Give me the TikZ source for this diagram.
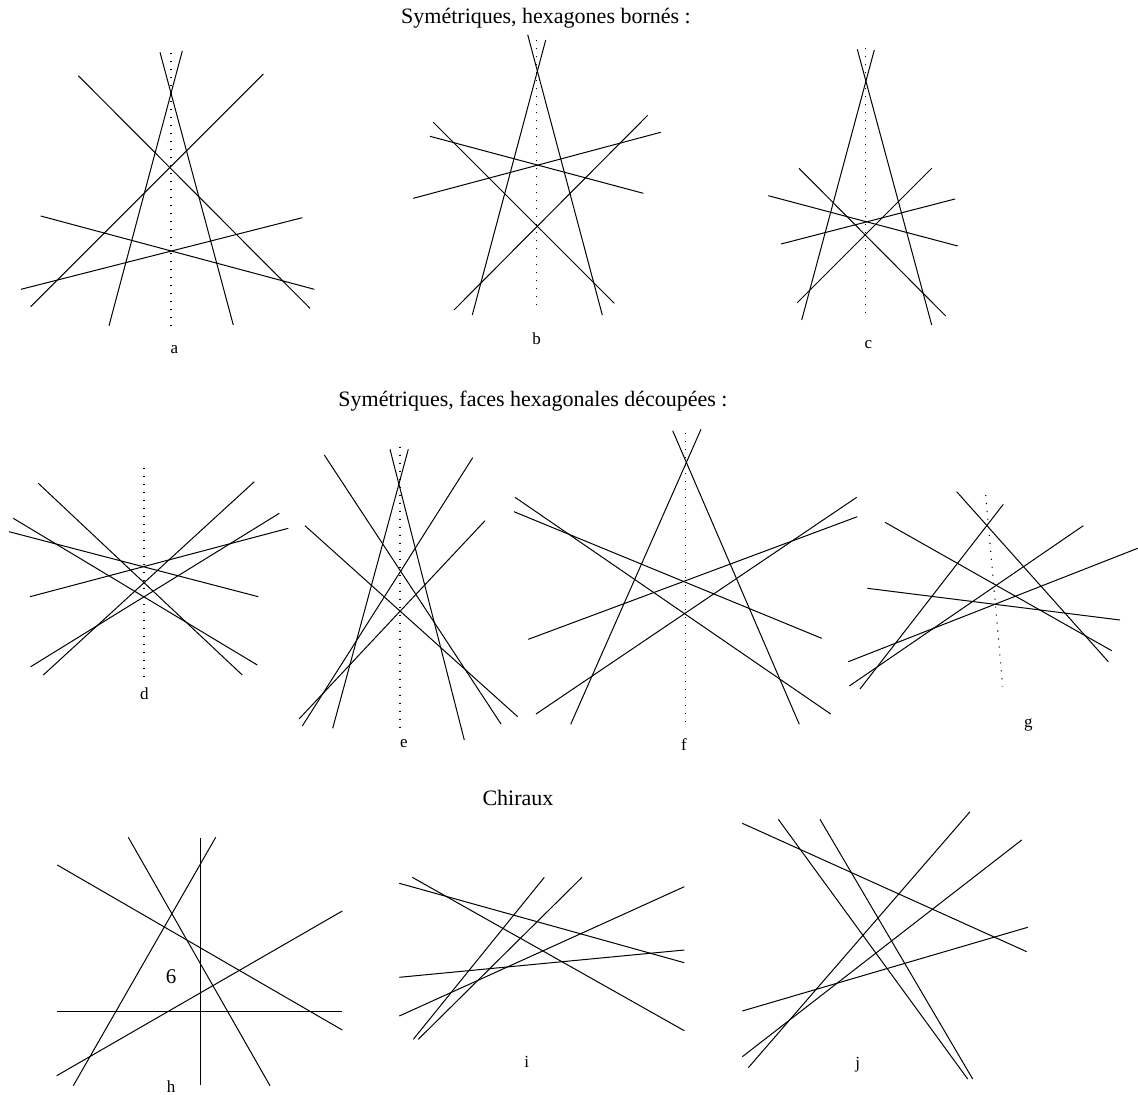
\documentclass[tikz,border=0pt]{standalone}
\usepackage{fontspec}
\setmainfont{Liberation Serif}
\begin{document}
\begin{tikzpicture}[x=1pt,y=-1pt,
  ln/.style={line width=1pt},
  ax/.style={line width=1.1pt, dash pattern=on 1.1pt off 6.9pt},
  ttl/.style={anchor=base, inner sep=0pt, font=\fontsize{22}{26}\selectfont},
  lbl/.style={inner sep=0pt, font=\fontsize{17}{20}\selectfont}]
\useasboundingbox (0,0) rectangle (1138,1095);
% titles
\node[ttl] (t1) at (546,23.3) {Symétriques, hexagones bornés :};
\node[ttl] (t2) at (533,406.7) {Symétriques, faces hexagonales découpées :};
\node[ttl] (t3) at (518,805) {Chiraux};
% ---------- a
\draw[ax] (171,53.3) -- (171,330);
\draw[ln] (160,52.3) -- (233.3,325);
\draw[ln] (182.3,51) -- (109,325.7);
\draw[ln] (78.3,75.7) -- (310,308.3);
\draw[ln] (263.3,74) -- (30.7,306.7);
\draw[ln] (40.7,216) -- (314.3,289.3);
\draw[ln] (302.3,217.7) -- (21,289.3);
\node[lbl] (la) at (174.3,350) {a};
% ---------- b
\draw[ax] (536.7,40) -- (536.7,310);
\draw[ln] (527.7,34.7) -- (602.3,315);
\draw[ln] (545.7,40) -- (472.3,315);
\draw[ln] (433.3,122.3) -- (614.3,303.3);
\draw[ln] (647.7,115.3) -- (454,310);
\draw[ln] (430,136.3) -- (643.3,193.3);
\draw[ln] (660.7,132.3) -- (413.3,198.3);
\node[lbl] (lb) at (536.7,338.3) {b};
% ---------- c
\draw[ax] (865.7,48.3) -- (865.7,320);
\draw[ln] (857.3,49.3) -- (931.7,325);
\draw[ln] (874.3,50) -- (801.7,320);
\draw[ln] (799,168.3) -- (945.7,316);
\draw[ln] (931.7,168.3) -- (797.3,302.7);
\draw[ln] (768.3,195.7) -- (957.7,246);
\draw[ln] (955,199) -- (781,244);
\node[lbl] (lc) at (868.3,345) {c};
% ---------- d
\draw[ax] (144,468.3) -- (144,683.3);
\draw[ln] (38.3,483.3) -- (242.3,675);
\draw[ln] (254.3,481.7) -- (43.3,675);
\draw[ln] (13.3,518.3) -- (257.3,665);
\draw[ln] (279.3,513.3) -- (30.7,666.7);
\draw[ln] (9,531.7) -- (258.3,596.7);
\draw[ln] (288.3,528.3) -- (30,596.7);
\node[lbl] (ld) at (144.3,693.3) {d};
% ---------- e
\draw[ax] (400,446.7) -- (400,730);
\draw[ln] (390,449.3) -- (464.3,740);
\draw[ln] (408.3,449.3) -- (332.7,728.3);
\draw[ln] (324.3,455) -- (501,724);
\draw[ln] (472.7,457.7) -- (302.3,726);
\draw[ln] (305,525.7) -- (517.7,716.7);
\draw[ln] (485,520.7) -- (299,719);
\node[lbl] (le) at (404,743.3) {e};
% ---------- f
\draw[ax] (685.3,433.3) -- (685.3,725);
\draw[ln] (672.7,430.7) -- (799.3,724.3);
\draw[ln] (701,429.3) -- (570.7,724.3);
\draw[ln] (515,497.3) -- (830.7,714);
\draw[ln] (856.7,497.3) -- (536,714);
\draw[ln] (514,511.7) -- (821.7,638.3);
\draw[ln] (857.3,516.7) -- (528.3,639.3);
\node[lbl] (lf) at (684,745) {f};
% ---------- g
\draw[ax] (985.7,495) -- (1002.7,686.7);
\draw[ln] (956.7,491.7) -- (1108.3,661.7);
\draw[ln] (1003.3,504.3) -- (860,689);
\draw[ln] (885,522.3) -- (1111.7,650.7);
\draw[ln] (1083.3,525.7) -- (849.3,686);
\draw[ln] (1137.7,548.3) -- (848.3,661.7);
\draw[ln] (867.3,588.3) -- (1120,620);
\node[lbl] (lg) at (1028.3,725) {g};
% ---------- h
\draw[ln] (200,838.3) -- (200,1085);
\draw[ln] (56.7,1011) -- (342.3,1011);
\draw[ln] (128.3,837.3) -- (270,1085.7);
\draw[ln] (215.7,837.3) -- (73.3,1085.7);
\draw[ln] (57.3,865) -- (342.3,1030);
\draw[ln] (342.3,911) -- (56.7,1075.7);
\node[inner sep=0pt, font=\fontsize{21}{25}\selectfont] (six) at (171,976.7) {6};
\node[lbl] (lh) at (171,1086.7) {h};
% ---------- i
\draw[ln] (412.3,877.3) -- (684.3,1030.7);
\draw[ln] (399.3,883.3) -- (684.3,962.7);
\draw[ln] (544.3,877.3) -- (413.3,1039.3);
\draw[ln] (582,877.3) -- (418.3,1039.3);
\draw[ln] (684.3,886.7) -- (399.3,1016);
\draw[ln] (399.3,977.3) -- (684.3,950);
\node[lbl] (li) at (526.7,1061.7) {i};
% ---------- j
\draw[ln] (742.3,823.3) -- (1026.7,951.7);
\draw[ln] (778.3,819.3) -- (967.7,1079);
\draw[ln] (820,819.3) -- (972.7,1079);
\draw[ln] (970,811.7) -- (748.3,1067.7);
\draw[ln] (1021.7,840) -- (742.3,1056.7);
\draw[ln] (742.3,1011) -- (1027.7,927.3);
\node[lbl] (lj) at (857.7,1065) {j};
\end{tikzpicture}
\end{document}
